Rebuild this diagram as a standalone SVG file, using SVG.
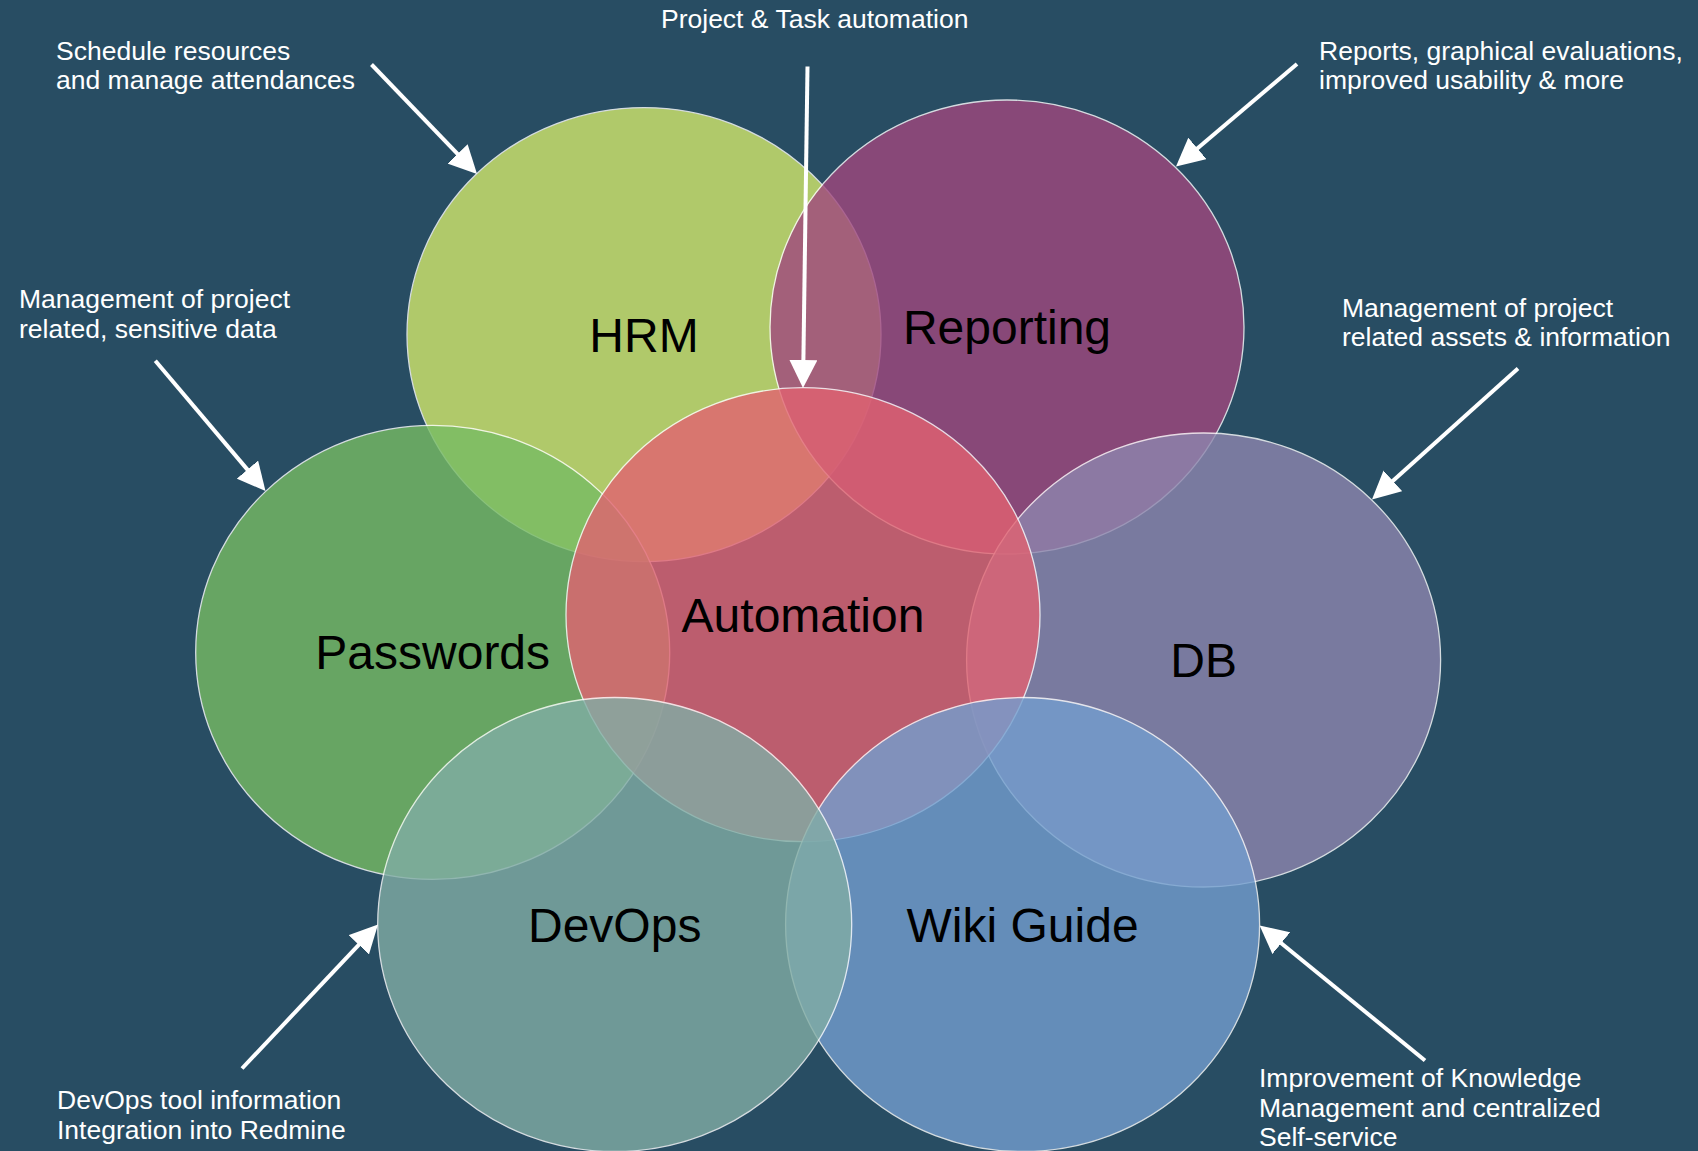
<svg xmlns="http://www.w3.org/2000/svg" width="1698" height="1151" viewBox="0 0 1698 1151">
<style>
.bubble{opacity:0.8}
.bubble ellipse{stroke:#ffffff;stroke-width:1.3}
.lbl{font-family:"Liberation Sans",Arial,sans-serif;font-size:48px;fill:#000000;text-anchor:middle}
.note{font-family:"Liberation Sans",Arial,sans-serif;font-size:26.5px;fill:#ffffff}
.arrow{stroke:#ffffff;stroke-width:4;fill:none;marker-end:url(#head)}
</style>
<defs>
<marker id="head" markerUnits="userSpaceOnUse" viewBox="0 0 28 28" markerWidth="28" markerHeight="28" refX="2" refY="14" orient="auto">
<path d="M0,0 L28,14 L0,28 z" fill="#ffffff"/>
</marker>
</defs>
<rect x="0" y="0" width="1698" height="1151" fill="#284d63"/>
<g id="hrm" class="bubble"><ellipse cx="644" cy="334.6" rx="237" ry="227" fill="#d2e86c"/></g>
<g id="reporting" class="bubble"><ellipse cx="1007" cy="327" rx="237" ry="227" fill="#a1477e"/></g>
<g id="passwords" class="bubble"><ellipse cx="432.7" cy="652.4" rx="237" ry="227" fill="#77bc63"/></g>
<g id="db" class="bubble"><ellipse cx="1203.6" cy="660" rx="237" ry="227" fill="#8e86ae"/></g>
<g id="automation" class="bubble"><ellipse cx="803" cy="614.7" rx="237" ry="227" fill="#e26271"/></g>
<g id="wiki" class="bubble"><ellipse cx="1022.6" cy="924.5" rx="237" ry="227" fill="#739ecf"/></g>
<g id="devops" class="bubble"><ellipse cx="614.7" cy="924.5" rx="237" ry="227" fill="#81ada5"/></g>
<g id="labels">
<text class="lbl" x="644" y="352">HRM</text>
<text class="lbl" x="1007" y="344">Reporting</text>
<text class="lbl" x="432.7" y="669.4">Passwords</text>
<text class="lbl" x="803" y="631.7">Automation</text>
<text class="lbl" x="1203.6" y="677">DB</text>
<text class="lbl" x="614.7" y="941.5">DevOps</text>
<text class="lbl" x="1022.6" y="941.5">Wiki Guide</text>
</g>
<g id="notes">
<text class="note" x="661" y="28">Project &amp; Task automation</text>
<text class="note" x="56" y="59.5">Schedule resources</text>
<text class="note" x="56" y="89">and manage attendances</text>
<text class="note" x="1319" y="59.5">Reports, graphical evaluations,</text>
<text class="note" x="1319" y="89">improved usability &amp; more</text>
<text class="note" x="19" y="308">Management of project</text>
<text class="note" x="19" y="337.5">related, sensitive data</text>
<text class="note" x="1342" y="316.5">Management of project</text>
<text class="note" x="1342" y="346">related assets &amp; information</text>
<text class="note" x="57" y="1109">DevOps tool information</text>
<text class="note" x="57" y="1139">Integration into Redmine</text>
<text class="note" x="1259" y="1086.5">Improvement of Knowledge</text>
<text class="note" x="1259" y="1116.5">Management and centralized</text>
<text class="note" x="1259" y="1146">Self-service</text>
</g>
<g id="connectors">
<line class="arrow" x1="371.5" y1="64.5" x2="458.96" y2="155.28"/>
<line class="arrow" x1="807.5" y1="66.5" x2="803.36" y2="362"/>
<line class="arrow" x1="1297" y1="64" x2="1195.84" y2="149.69"/>
<line class="arrow" x1="155.3" y1="360.7" x2="248.71" y2="471.15"/>
<line class="arrow" x1="1518" y1="368.5" x2="1391.35" y2="482.14"/>
<line class="arrow" x1="242" y1="1068.5" x2="360.15" y2="943.4"/>
<line class="arrow" x1="1425" y1="1060.5" x2="1279.74" y2="941.94"/>
</g>
</svg>
